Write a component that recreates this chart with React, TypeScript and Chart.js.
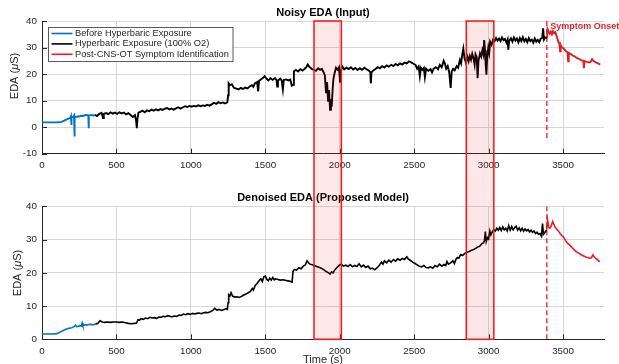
import React, { useEffect, useRef } from "react";
import { Chart, registerables } from "chart.js";

Chart.register(...registerables);

const FONT = '"Liberation Sans", Arial, Helvetica, sans-serif';
const BLUE = "rgb(0,114,189)";
const RED = "rgb(226,30,36)";
const AX = "#262626";
const GRID = "#d6d6d6";

// ---------- data: [time (s), EDA (uS)] ----------
const noisyBefore: [number, number][] = [
  [0, 1.8], [50, 1.8], [100, 1.8], [130, 2.0], [150, 2.5], [170, 3.0], [190, 3.5], [195, 4.2], [197, 0.8],
  [199, 4.0], [210, 3.8], [215, 4.3], [217, -3.5], [219, -1.0], [221, 3.8], [230, 3.9], [250, 4.0],
  [260, 4.3], [270, 4.2], [290, 4.5], [300, 4.6], [311, 4.4], [313, -0.4], [315, 4.3], [330, 4.6],
  [345, 4.4], [355, 4.6],
];

const noisyDuring: [number, number][] = [
  [355, 4.6], [370, 4.2], [385, 5.0], [400, 5.4], [410, 3.4], [415, 5.0], [430, 5.3], [445, 4.9],
  [460, 5.6], [475, 5.1], [490, 5.5], [505, 5.0], [520, 5.6], [535, 5.2], [550, 5.5], [565, 4.8],
  [580, 5.3], [595, 4.6], [610, 3.8], [625, 4.5], [632, 2.5], [637, -0.4], [641, 3.0], [648, 5.5],
  [660, 5.8], [675, 6.2], [690, 5.6], [705, 6.3], [720, 6.0], [735, 6.6], [750, 6.2], [765, 6.7],
  [780, 6.3], [795, 6.8], [810, 6.5], [825, 7.0], [840, 7.2], [855, 6.7], [870, 7.0], [885, 6.6],
  [900, 7.1], [915, 7.5], [930, 7.0], [945, 7.4], [960, 7.9], [975, 7.6], [990, 8.0], [1005, 7.7],
  [1020, 8.0], [1035, 7.8], [1050, 8.2], [1065, 7.9], [1080, 8.2], [1095, 8.0], [1110, 8.4],
  [1125, 8.1], [1140, 8.6], [1155, 9.2], [1170, 8.8], [1185, 9.4], [1200, 9.0], [1215, 9.3],
  [1230, 8.9], [1245, 9.4], [1250, 12.0], [1254, 16.5], [1262, 15.8], [1275, 16.2], [1290, 14.8],
  [1305, 14.5], [1320, 14.2], [1335, 14.8], [1350, 14.4], [1365, 14.9], [1380, 14.6], [1395, 15.3],
  [1410, 15.8], [1420, 15.2], [1430, 16.5], [1445, 17.0], [1452, 13.5], [1458, 17.5], [1470, 18.0],
  [1485, 18.6], [1495, 19.2], [1505, 18.5], [1520, 17.6], [1535, 18.4], [1550, 17.8], [1565, 18.5],
  [1575, 17.8], [1580, 15.3], [1585, 17.5], [1600, 18.3], [1610, 17.6], [1618, 14.2], [1624, 17.8],
  [1640, 18.0], [1655, 17.6], [1668, 17.9], [1678, 15.6], [1688, 16.0], [1692, 21.0], [1705, 21.6],
  [1720, 21.0], [1735, 21.8], [1750, 21.3], [1765, 22.0], [1775, 22.6], [1785, 23.6], [1795, 22.8],
  [1810, 22.0], [1825, 21.6], [1840, 21.2], [1855, 22.2], [1868, 21.6], [1880, 22.0], [1892, 20.6],
  [1900, 19.5], [1908, 12.8], [1915, 17.0], [1922, 9.6], [1928, 14.0], [1935, 6.5], [1941, 10.5],
  [1946, 7.7], [1952, 14.0], [1957, 18.0], [1966, 20.5], [1975, 22.4], [1985, 21.6], [1995, 22.6],
  [2002, 17.1], [2008, 21.0], [2015, 23.0], [2030, 21.8], [2045, 22.4], [2060, 21.9], [2075, 22.6],
  [2090, 21.7], [2105, 22.3], [2120, 21.5], [2135, 22.2], [2150, 21.6], [2165, 22.4], [2180, 21.8],
  [2195, 21.3], [2205, 20.8], [2209, 16.5], [2213, 20.6], [2225, 21.4], [2240, 21.9], [2255, 22.6],
  [2270, 22.2], [2285, 23.0], [2300, 22.5], [2315, 23.3], [2330, 22.8], [2345, 23.5], [2360, 23.0],
  [2375, 23.8], [2390, 23.3], [2405, 24.0], [2420, 23.6], [2435, 24.3], [2450, 24.0], [2465, 24.8],
  [2480, 24.4], [2495, 23.9], [2510, 23.4], [2520, 22.0], [2530, 22.8], [2538, 19.2], [2545, 22.4],
  [2555, 21.6], [2565, 22.3], [2572, 18.8], [2580, 22.0], [2595, 21.2], [2610, 21.8], [2620, 20.6],
  [2630, 22.0], [2645, 22.6], [2660, 21.8], [2672, 23.5], [2685, 22.6], [2698, 25.0], [2706, 24.0],
  [2715, 22.0], [2725, 23.0], [2735, 20.8], [2745, 14.8], [2752, 21.0], [2762, 22.0], [2772, 21.4],
  [2785, 23.0], [2795, 22.4], [2807, 25.3], [2815, 24.0], [2822, 27.0], [2830, 29.6], [2838, 26.0],
  [2848, 24.2], [2858, 26.5], [2866, 24.8], [2874, 26.8], [2882, 25.4], [2890, 27.6], [2898, 26.0],
  [2906, 23.5], [2912, 27.5], [2920, 26.4], [2926, 18.4], [2932, 25.0], [2942, 27.8], [2950, 26.6],
  [2958, 29.0], [2965, 27.4], [2970, 32.8], [2976, 29.0], [2980, 24.0], [2985, 19.8], [2990, 26.0],
  [2998, 30.0], [3004, 28.0], [3010, 32.2], [3020, 31.0], [3030, 33.0], [3040, 32.4], [3050, 33.6],
  [3060, 32.6], [3070, 33.4], [3080, 32.4], [3090, 33.8], [3100, 32.8], [3110, 33.2], [3120, 31.8],
  [3128, 33.0], [3132, 29.2], [3138, 32.4], [3150, 33.5], [3160, 32.2], [3170, 33.8], [3180, 32.6],
  [3190, 33.4], [3200, 31.9], [3210, 33.6], [3220, 32.4], [3230, 33.9], [3240, 32.3], [3250, 33.2],
  [3260, 32.0], [3270, 33.6], [3280, 32.4], [3290, 33.0], [3300, 31.8], [3310, 33.4], [3320, 32.2],
  [3330, 32.9], [3340, 32.0], [3350, 33.3], [3360, 33.6], [3366, 37.2], [3372, 33.0], [3380, 33.8],
  [3392, 33.6],
];

const noisyAfter: [number, number][] = [
  [3392, 33.6], [3396, 37.0], [3402, 36.2], [3410, 35.2], [3418, 36.0], [3425, 35.0], [3432, 36.2],
  [3440, 35.4], [3448, 35.8], [3455, 34.6], [3462, 33.4], [3470, 31.8], [3476, 31.4], [3480, 28.6],
  [3484, 31.0], [3490, 30.2], [3500, 29.8], [3510, 29.2], [3520, 28.6], [3530, 28.2], [3534, 24.8],
  [3538, 28.0], [3550, 27.6], [3565, 27.0], [3580, 26.6], [3595, 26.0], [3610, 25.6], [3625, 25.2],
  [3636, 25.0], [3640, 22.2], [3644, 24.9], [3660, 24.6], [3675, 24.4], [3685, 24.6], [3695, 25.6],
  [3705, 24.9], [3720, 24.4], [3735, 24.0], [3750, 23.6],
];

const cleanBefore: [number, number][] = [
  [0, 1.6], [40, 1.6], [80, 1.6], [100, 1.7], [120, 2.1], [140, 2.6], [160, 3.0], [180, 3.3],
  [200, 3.5], [215, 3.8], [225, 4.3], [232, 3.8], [245, 3.9], [255, 4.1], [265, 4.0], [270, 4.9],
  [275, 4.1], [290, 4.4], [305, 4.3], [320, 4.5], [340, 4.4], [358, 4.5],
];

const cleanDuring: [number, number][] = [
  [358, 4.5], [375, 4.8], [390, 5.6], [405, 5.2], [420, 5.1], [440, 5.2], [460, 5.1], [480, 5.2],
  [500, 5.2], [520, 5.1], [540, 5.2], [560, 5.0], [580, 4.8], [600, 4.7], [620, 4.8], [635, 4.9],
  [645, 5.9], [655, 5.7], [665, 6.2], [680, 6.0], [695, 6.4], [710, 6.2], [725, 6.6], [740, 6.4],
  [755, 6.5], [770, 6.3], [785, 6.7], [800, 6.6], [815, 6.9], [830, 6.8], [845, 7.1], [860, 6.9],
  [875, 6.8], [890, 7.0], [905, 6.9], [920, 7.3], [935, 7.2], [950, 7.6], [965, 7.4], [980, 7.7],
  [995, 7.5], [1010, 7.8], [1025, 7.6], [1040, 7.8], [1055, 7.9], [1070, 7.7], [1085, 8.0],
  [1100, 8.1], [1115, 8.0], [1130, 8.3], [1145, 8.6], [1160, 9.3], [1175, 8.8], [1190, 9.0],
  [1205, 8.7], [1220, 8.9], [1235, 9.2], [1245, 9.0], [1250, 11.0], [1254, 13.4], [1262, 13.0],
  [1270, 14.0], [1280, 13.0], [1295, 12.7], [1310, 12.8], [1325, 12.6], [1340, 12.9], [1355, 13.3],
  [1370, 13.6], [1385, 14.0], [1400, 14.4], [1412, 15.3], [1420, 14.8], [1432, 16.2], [1445, 16.8],
  [1458, 17.6], [1470, 18.2], [1480, 17.4], [1490, 18.8], [1500, 19.0], [1510, 18.0], [1520, 17.6],
  [1530, 18.4], [1540, 17.8], [1550, 18.6], [1560, 17.9], [1570, 18.2], [1585, 18.0], [1600, 17.8],
  [1620, 17.9], [1640, 17.7], [1660, 17.5], [1680, 17.2], [1686, 20.4], [1695, 21.0], [1710, 20.8],
  [1725, 21.5], [1740, 21.2], [1755, 22.0], [1770, 22.4], [1780, 23.6], [1790, 23.0], [1800, 22.6],
  [1815, 22.4], [1830, 22.2], [1845, 21.9], [1860, 21.7], [1875, 21.4], [1890, 21.0], [1905, 20.5],
  [1920, 20.1], [1935, 19.6], [1945, 20.3], [1955, 20.0], [1965, 20.8], [1980, 21.5], [1995, 22.2],
  [2010, 22.6], [2025, 22.0], [2040, 22.3], [2055, 21.9], [2070, 22.5], [2085, 21.8], [2100, 22.2],
  [2115, 21.9], [2130, 22.7], [2145, 21.8], [2160, 22.3], [2175, 21.6], [2190, 22.0], [2205, 21.2],
  [2220, 21.4], [2235, 20.9], [2250, 21.5], [2265, 22.2], [2280, 23.2], [2290, 22.6], [2300, 23.6],
  [2315, 23.0], [2330, 23.8], [2345, 23.2], [2360, 24.0], [2375, 23.5], [2390, 24.2], [2405, 23.8],
  [2420, 24.3], [2435, 24.0], [2450, 24.8], [2460, 24.2], [2475, 23.7], [2490, 23.2], [2505, 22.8],
  [2520, 22.4], [2535, 22.0], [2550, 21.8], [2565, 22.2], [2580, 21.6], [2595, 21.5], [2610, 21.8],
  [2625, 21.4], [2640, 22.2], [2655, 21.8], [2670, 22.6], [2685, 22.0], [2700, 22.5], [2712, 22.2],
  [2720, 23.4], [2730, 22.6], [2745, 23.0], [2760, 23.6], [2770, 22.8], [2780, 24.0], [2790, 24.6],
  [2800, 24.4], [2812, 25.5], [2825, 25.2], [2840, 25.8], [2855, 26.2], [2870, 26.4], [2885, 26.8],
  [2900, 27.0], [2915, 27.4], [2928, 27.8], [2940, 28.0], [2955, 28.8], [2965, 29.0], [2972, 29.6],
  [2978, 32.4], [2984, 29.4], [2992, 30.6], [3000, 30.2], [3008, 32.6], [3015, 31.4], [3025, 32.4],
  [3035, 33.0], [3045, 32.6], [3055, 33.4], [3065, 32.8], [3075, 33.6], [3085, 32.7], [3095, 33.8],
  [3105, 32.9], [3115, 33.4], [3125, 32.6], [3135, 34.2], [3145, 32.8], [3155, 33.9], [3165, 32.9],
  [3175, 33.6], [3185, 34.0], [3195, 32.8], [3205, 33.5], [3215, 32.6], [3225, 33.4], [3235, 32.5],
  [3245, 33.2], [3255, 32.6], [3265, 33.0], [3275, 32.3], [3285, 32.8], [3295, 32.2], [3305, 32.6],
  [3315, 31.8], [3325, 32.2], [3335, 31.6], [3345, 31.8], [3355, 31.0], [3362, 34.8], [3368, 31.6],
  [3378, 32.2], [3390, 32.9],
];

const cleanAfter: [number, number][] = [
  [3390, 32.9], [3396, 35.9], [3404, 33.6], [3412, 33.4], [3420, 34.0], [3430, 35.4], [3438, 34.6],
  [3446, 33.8], [3456, 33.2], [3468, 32.6], [3480, 31.8], [3492, 31.2], [3500, 30.9], [3510, 30.2],
  [3520, 29.5], [3532, 28.8], [3545, 28.4], [3560, 27.6], [3575, 26.9], [3590, 26.3], [3605, 25.9],
  [3620, 25.5], [3635, 25.1], [3650, 24.8], [3665, 24.6], [3680, 24.4], [3690, 24.5], [3700, 25.4],
  [3708, 24.8], [3720, 24.3], [3735, 23.8], [3746, 23.3],
];

const seriesLabels = [
  "Before Hyperbaric Exposure",
  "Hyperbaric Exposure (100% O2)",
  "Post-CNS-OT Symptom Identification",
];
const xTicks = [0, 500, 1000, 1500, 2000, 2500, 3000, 3500];
const X_MAX = 3775;
const topYTicks = [-10, 0, 10, 20, 30, 40];
const bottomYTicks = [0, 10, 20, 30, 40];
const highlightStarts = [1827, 2850];
const highlightEnds = [2011, 3035];
const onsetTime = 3391;
const onsetLabel = "Symptom Onset";
const topTitle = "Noisy EDA (Input)";
const bottomTitle = "Denoised EDA (Proposed Model)";
const xLabel = "Time (s)";

const toPts = (arr: [number, number][]) => arr.map(([x, y]) => ({ x, y }));

type PanelOpts = {
  title: string;
  yMin: number;
  yMax: number;
  yTicks: number[];
  series: [number, number][][];
  width: number;
  dashBottom: number;
  padTop: number;
  xAxisH: number;
  legend: boolean;
  onsetText: boolean;
  xTitle: boolean;
  titleY: number;
  yLabelX: number;
  yLabelY: number;
  xTitleY: number;
};

function makePanel(canvas: HTMLCanvasElement, o: PanelOpts) {
  const colors = [BLUE, "#000", RED];
  const datasets: any[] = o.series.map((s, i) => ({
    label: seriesLabels[i],
    data: toPts(s),
    borderColor: colors[i],
    borderWidth: o.width,
    pointRadius: 0,
    tension: 0,
    fill: false,
  }));
  datasets.push({
    label: "onset",
    data: [
      { x: onsetTime, y: o.yMax },
      { x: onsetTime, y: o.dashBottom },
    ],
    borderColor: RED,
    borderWidth: 1.3,
    borderDash: [5, 3],
    pointRadius: 0,
    fill: false,
  });

  const deco = {
    id: "deco",
    afterDraw(chart: any) {
      const ctx = chart.ctx as CanvasRenderingContext2D;
      const ca = chart.chartArea;
      const xs = chart.scales.x;
      const ys = chart.scales.y;
      ctx.save();
      // inward tick marks
      ctx.strokeStyle = AX;
      ctx.lineWidth = 1;
      ctx.beginPath();
      o.yTicks.forEach((v) => {
        const py = Math.round(ys.getPixelForValue(v)) + 0.5;
        ctx.moveTo(ca.left, py);
        ctx.lineTo(ca.left + 5, py);
      });
      xTicks.forEach((v) => {
        const px = Math.round(xs.getPixelForValue(v)) + 0.5;
        ctx.moveTo(px, ca.bottom);
        ctx.lineTo(px, ca.bottom - 5);
      });
      ctx.stroke();

      // title
      ctx.fillStyle = "#000";
      ctx.font = `bold 11px ${FONT}`;
      ctx.textAlign = "center";
      ctx.textBaseline = "middle";
      ctx.fillText(o.title, (ca.left + ca.right) / 2, o.titleY);

      // y label with italic mu
      ctx.save();
      ctx.translate(o.yLabelX, o.yLabelY);
      ctx.rotate(-Math.PI / 2);
      ctx.fillStyle = AX;
      const parts: [string, string][] = [
        ["EDA (", `11px ${FONT}`],
        ["\u03bc", `italic 11px ${FONT}`],
        ["S)", `11px ${FONT}`],
      ];
      let total = 0;
      parts.forEach(([t, f]) => {
        ctx.font = f;
        total += ctx.measureText(t).width;
      });
      let cx = -total / 2;
      ctx.textAlign = "left";
      parts.forEach(([t, f]) => {
        ctx.font = f;
        ctx.fillText(t, cx, 0);
        cx += ctx.measureText(t).width;
      });
      ctx.restore();

      if (o.xTitle) {
        ctx.fillStyle = AX;
        ctx.font = `11px ${FONT}`;
        ctx.textAlign = "center";
        ctx.textBaseline = "middle";
        ctx.fillText(xLabel, (ca.left + ca.right) / 2, o.xTitleY);
      }

      if (o.onsetText) {
        ctx.fillStyle = RED;
        ctx.font = `bold 9px ${FONT}`;
        ctx.textAlign = "left";
        ctx.textBaseline = "middle";
        ctx.fillText(onsetLabel, xs.getPixelForValue(onsetTime) + 3.5, ca.top + 5.5);
      }

      if (o.legend) {
        const lx = ca.left + 6;
        const ly = ca.top + 6;
        const lw = 184.5;
        const lh = 34;
        ctx.fillStyle = "#fff";
        ctx.fillRect(lx, ly, lw, lh);
        ctx.strokeStyle = "#5a5a5a";
        ctx.lineWidth = 1;
        ctx.strokeRect(Math.round(lx) + 0.5, Math.round(ly) + 0.5, lw, lh);
        ctx.font = `9.3px ${FONT}`;
        ctx.textAlign = "left";
        ctx.textBaseline = "middle";
        chart.data.datasets.slice(0, 3).forEach((d: any, i: number) => {
          const yy = ly + 6.5 + i * 10.4;
          ctx.strokeStyle = d.borderColor;
          ctx.lineWidth = 1.6;
          ctx.beginPath();
          ctx.moveTo(lx + 3.5, yy);
          ctx.lineTo(lx + 24.5, yy);
          ctx.stroke();
          ctx.fillStyle = AX;
          ctx.fillText(d.label, lx + 27, yy);
        });
      }
      ctx.restore();
    },
  };

  return new Chart(canvas, {
    type: "line",
    data: { datasets },
    options: {
      responsive: false,
      animation: false,
      events: [],
      parsing: false,
      normalized: true,
      layout: { padding: { top: o.padTop, right: 15, bottom: 0, left: 0 } },
      plugins: {
        legend: { display: false },
        tooltip: { enabled: false },
        title: { display: false },
      },
      scales: {
        x: {
          type: "linear",
          min: 0,
          max: X_MAX,
          afterFit: (s: any) => {
            s.height = o.xAxisH;
          },
          afterBuildTicks: (s: any) => {
            s.ticks = xTicks.map((v) => ({ value: v }));
          },
          grid: { color: GRID, lineWidth: 1, drawTicks: false },
          border: { display: true, color: AX, width: 1 },
          ticks: {
            padding: 6,
            color: AX,
            maxRotation: 0,
            autoSkip: false,
            font: { family: FONT, size: 9.8 },
            callback: (v: any) => String(v),
          },
        },
        y: {
          type: "linear",
          min: o.yMin,
          max: o.yMax,
          afterFit: (s: any) => {
            s.width = 42;
          },
          afterBuildTicks: (s: any) => {
            s.ticks = o.yTicks.map((v) => ({ value: v }));
          },
          grid: { color: GRID, lineWidth: 1, drawTicks: false },
          border: { display: true, color: AX, width: 1 },
          ticks: {
            padding: 5,
            color: AX,
            autoSkip: false,
            font: { family: FONT, size: 9.8 },
            callback: (v: any) => String(v),
          },
        },
      },
    } as any,
    plugins: [deco],
  });
}

export default function App() {
  const topRef = useRef<HTMLCanvasElement>(null);
  const botRef = useRef<HTMLCanvasElement>(null);
  const overRef = useRef<HTMLCanvasElement>(null);

  useEffect(() => {
    const top = makePanel(topRef.current!, {
      title: topTitle,
      yMin: -10,
      yMax: 40,
      yTicks: topYTicks,
      series: [noisyBefore, noisyDuring, noisyAfter],
      width: 1.9,
      dashBottom: -5,
      padTop: 21,
      xAxisH: 26.3,
      legend: true,
      onsetText: true,
      xTitle: false,
      titleY: 12.5,
      yLabelX: 15,
      yLabelY: 76,
      xTitleY: 0,
    });
    const bot = makePanel(botRef.current!, {
      title: bottomTitle,
      yMin: 0,
      yMax: 40,
      yTicks: bottomYTicks,
      series: [cleanBefore, cleanDuring, cleanAfter],
      width: 1.6,
      dashBottom: 0,
      padTop: 26.3,
      xAxisH: 24.7,
      legend: false,
      onsetText: false,
      xTitle: true,
      titleY: 18.3,
      yLabelX: 18,
      yLabelY: 93,
      xTitleY: 180,
    });

    const oc = overRef.current!;
    const ctx = oc.getContext("2d")!;
    ctx.clearRect(0, 0, oc.width, oc.height);
    const xs = top.scales.x;
    const y0 = top.chartArea.top;
    const y1 = 180 + bot.chartArea.bottom;
    highlightStarts.forEach((s, i) => {
      const x0 = xs.getPixelForValue(s);
      const x1 = xs.getPixelForValue(highlightEnds[i]);
      ctx.fillStyle = "rgba(240,40,40,0.11)";
      ctx.fillRect(x0, y0, x1 - x0, y1 - y0);
      ctx.strokeStyle = "rgb(250,20,20)";
      ctx.lineWidth = 1.5;
      ctx.strokeRect(x0, y0, x1 - x0, y1 - y0);
    });

    return () => {
      top.destroy();
      bot.destroy();
    };
  }, []);

  return (
    <div style={{ position: "absolute", left: 0, top: 0, width: 619, height: 364, background: "#fff", overflow: "hidden" }}>
      <canvas ref={topRef} width={619} height={180} style={{ position: "absolute", left: 0, top: 0 }} />
      <canvas ref={botRef} width={619} height={184} style={{ position: "absolute", left: 0, top: 180 }} />
      <canvas ref={overRef} width={619} height={364} style={{ position: "absolute", left: 0, top: 0, pointerEvents: "none" }} />
    </div>
  );
}
